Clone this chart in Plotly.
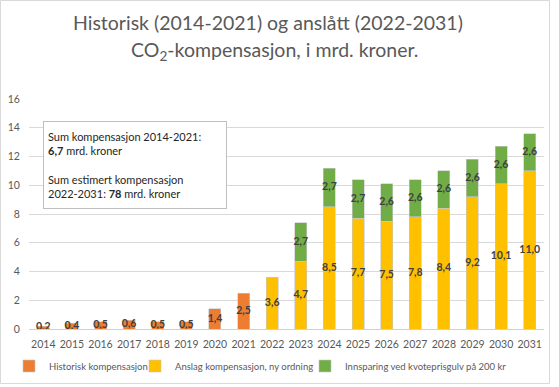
import plotly.graph_objects as go

years_hist = ["2014", "2015", "2016", "2017", "2018", "2019", "2020", "2021"]
hist_vals = [0.2, 0.4, 0.5, 0.6, 0.5, 0.5, 1.4, 2.5]

years_est = ["2022", "2023", "2024", "2025", "2026", "2027", "2028", "2029", "2030", "2031"]
est_vals = [3.6, 4.7, 8.5, 7.7, 7.5, 7.8, 8.4, 9.2, 10.1, 11.0]

years_green = ["2023", "2024", "2025", "2026", "2027", "2028", "2029", "2030", "2031"]
green_vals = [2.7, 2.7, 2.7, 2.6, 2.6, 2.6, 2.6, 2.6, 2.6]

all_years = years_hist + years_est
y_ticks = [0, 2, 4, 6, 8, 10, 12, 14, 16]

C_OR = "#ED7D31"
C_YE = "#FFC000"
C_GR = "#70AD47"
FONT = "Lato"
LBL = "#404040"


def fmt(v):
    return f"{v:.1f}".replace(".", ",")


fig = go.Figure()
fig.add_bar(x=years_hist, y=hist_vals, name="Historisk kompensasjon", legendwidth=81,
            marker=dict(color=C_OR, line=dict(color="#c8c8c8", width=0.6)))
fig.add_bar(x=years_est, y=est_vals, name="Anslag kompensasjon, ny ordning", legendwidth=125,
            marker=dict(color=C_YE, line=dict(color="#c8c8c8", width=0.6)))
est_map = dict(zip(years_est, est_vals))
fig.add_bar(x=years_green, y=green_vals, name="Innsparing ved kvoteprisgulv på 200 kr",
            legendwidth=170,
            marker=dict(color=C_GR, line=dict(color="#c8c8c8", width=0.6)))

# labels
lab_x = years_hist + years_est + years_green
lab_y = [v / 2 for v in hist_vals] + [v / 2 for v in est_vals] + \
        [est_map[y] + g / 2 for y, g in zip(years_green, green_vals)]
lab_t = [fmt(v) for v in hist_vals] + [fmt(v) for v in est_vals] + [fmt(v) for v in green_vals]
fig.add_scatter(x=lab_x, y=lab_y, text=lab_t, mode="text", showlegend=False,
                hoverinfo="skip",
                textfont=dict(family=FONT, size=10.5, color=LBL, weight="bold"))

plot_l, plot_r, plot_t, plot_b = 29, 15, 99, 58
pw = 559 - plot_l - plot_r
ph = 387 - plot_t - plot_b


def py(pix):
    return (387 - plot_b - pix) / ph


def px(pix):
    return (pix - plot_l) / pw


fig.update_layout(
    width=559, height=387,
    margin=dict(l=plot_l, r=plot_r, t=plot_t, b=plot_b, autoexpand=False),
    paper_bgcolor="white", plot_bgcolor="white",
    barmode="stack", bargap=0.58,
    font=dict(family=FONT, color="#595959"),
    xaxis=dict(type="category", categoryorder="array", categoryarray=all_years,
               range=[-0.5, len(all_years) - 0.5], autorange=False,
               showgrid=False, showline=True, linecolor="#d0d0d0", linewidth=1,
               ticks="outside", ticklen=5, tickcolor="rgba(0,0,0,0)", automargin=False,
               tickfont=dict(size=10.5, color="#595959")),
    yaxis=dict(range=[0, 16], autorange=False, tickvals=y_ticks, showgrid=True,
               gridcolor="#d9d9d9",
               zeroline=False, showline=False, automargin=False,
               ticks="outside", ticklen=6, tickcolor="rgba(0,0,0,0)",
               tickfont=dict(size=10.5, color="#595959")),
    legend=dict(orientation="h", x=px(9), xanchor="left",
                y=py(366), yanchor="middle", traceorder="normal",
                font=dict(size=9.5, color="#595959"),
                itemwidth=30, tracegroupgap=0, bgcolor="rgba(0,0,0,0)"),
    showlegend=True,
)

title_font = dict(family=FONT, size=19.5, color="#595959")
fig.add_annotation(xref="paper", yref="paper", x=px(268), y=py(22.5),
                   xanchor="center", yanchor="middle", showarrow=False,
                   text="Historisk (2014-2021) og anslått (2022-2031)", font=title_font)
fig.add_annotation(xref="paper", yref="paper", x=px(274), y=py(50.5),
                   xanchor="center", yanchor="middle", showarrow=False,
                   text="CO<sub>2</sub>-kompensasjon, i mrd. kroner.", font=title_font)

fig.add_annotation(
    xref="paper", yref="paper",
    x=px(43), y=py(121),
    xanchor="left", yanchor="top",
    text="Sum kompensasjon 2014-2021:<br><b>6,7</b> mrd. kroner<br><br>"
         "Sum estimert kompensasjon<br>2022-2031: <b>78</b> mrd. kroner",
    align="left", showarrow=False,
    width=174, height=78, valign="middle",
    bgcolor="white", bordercolor="#bfbfbf", borderwidth=1, borderpad=4,
    font=dict(family=FONT, size=11, color="#262626"),
)

# outer chart border
fig.add_shape(type="rect", xref="paper", yref="paper",
              x0=px(0.5), x1=px(549.5), y0=py(383.5), y1=py(0.5),
              line=dict(color="#d9d9d9", width=1), fillcolor="rgba(0,0,0,0)",
              layer="below")

fig.write_html(
    "out.html",
    config={"displayModeBar": False},
    post_script="document.body.style.margin='0';document.body.style.overflow='hidden';",
)
